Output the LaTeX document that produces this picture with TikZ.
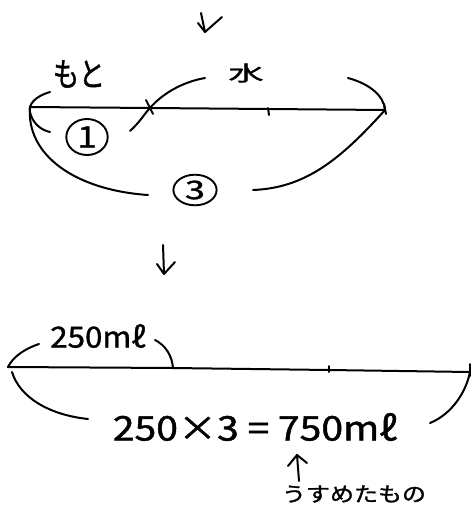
\documentclass[tikz,border=0pt]{standalone}
\usepackage{fontspec}
\newfontfamily\jp{Noto Sans CJK JP}[FakeBold=1.2]
\begin{document}
\begin{tikzpicture}[x=1pt,y=-1pt,
  pen/.style={line width=2pt,line cap=round,line join=round},
  lbl/.style={font=\jp, inner sep=0pt},
  circnum/.style={draw,circle,line width=1.9pt,inner sep=0pt,minimum size=36pt,font=\jp\fontsize{30}{30}\selectfont}]
\useasboundingbox (0,0) rectangle (472,516);
% top arrow
\coordinate (a1s) at (201,13); \coordinate (a1e) at (205,32);
\coordinate (a1l) at (198,23); \coordinate (a1r) at (222,17);
\draw[pen] (a1s) -- (a1e) -- (a1r); \draw[pen] (a1l) -- (a1e);
% top line
\coordinate (A) at (30,107); \coordinate (B) at (150,108);
\coordinate (C) at (268,109); \coordinate (D) at (385,110);
\draw[pen] (A) -- (B) -- (C) -- (D);
\coordinate (Bt) at (146,100); \coordinate (Bb) at (153,114);
\draw[pen] (Bt) -- (Bb);
\coordinate (Ct) at (268,108); \coordinate (Cb) at (269,115);
\draw[pen] (Ct) -- (Cb);
\coordinate (Dt) at (384,104); \coordinate (Db) at (386,114);
\draw[pen] (Dt) -- (Db);
% labels
\node[lbl,font=\jp\fontsize{33}{33}\selectfont,xscale=0.8] (moto) at (79,74) {もと};
\node[lbl,font=\jp\fontsize{26}{26}\selectfont,xscale=1.35,yscale=0.8] (mizu) at (246,73) {水};
% moto brace
\coordinate (m1) at (50,92); \coordinate (m2) at (50,132);
\draw[pen] (m1) .. controls (36,96) and (28,104) .. (30,112) .. controls (32,122) and (40,130) .. (m2);
\coordinate (m3) at (130,131); \coordinate (w1) at (205,78);
\draw[pen] (m3) .. controls (140,122) and (145,113) .. (B) .. controls (162,94) and (182,82) .. (w1);
\coordinate (w2) at (348,78);
\draw[pen] (w2) .. controls (370,84) and (384,96) .. (D);
\node[circnum,xscale=1.15] (one) at (87,137) {1};
% three brace
\coordinate (t1) at (148,195); \coordinate (t2) at (253,190);
\draw[pen] (A) .. controls (26,155) and (75,190) .. (t1);
\draw[pen] (t2) .. controls (305,188) and (340,160) .. (D);
\node[circnum,xscale=1.2,yscale=0.85] (three) at (195,190) {3};
% second arrow
\coordinate (a2s) at (163,245); \coordinate (a2e) at (164,274);
\coordinate (a2l) at (157,264); \coordinate (a2r) at (175,262);
\draw[pen] (a2s) -- (a2e) -- (a2r); \draw[pen] (a2l) -- (a2e);
% bottom line
\coordinate (E) at (8,367); \coordinate (F) at (329,370); \coordinate (G) at (470,372);
\coordinate (H) at (173,368);
\draw[pen] (E) -- (H) -- (F) -- (G);
\coordinate (Ft) at (329,366); \coordinate (Fb) at (329,372);
\draw[pen] (Ft) -- (Fb);
\coordinate (Gt) at (470,364); \coordinate (Gb) at (470,376);
\draw[pen] (Gt) -- (Gb);
\node[lbl,font=\jp\fontsize{29}{29}\selectfont,xscale=1.08] (q) at (98,336) {250mℓ};
\coordinate (q1) at (39,344); \coordinate (q2) at (155,340);
\draw[pen] (q1) .. controls (24,349) and (13,357) .. (E);
\draw[pen] (q2) .. controls (165,345) and (172,355) .. (H);
% lower brace
\coordinate (r0) at (12,372);
\coordinate (r1) at (88,419); \coordinate (r2) at (430,423);
\draw[pen] (r0) .. controls (20,398) and (50,415) .. (r1);
\draw[pen] (r2) .. controls (452,414) and (466,392) .. (G);
\node[lbl,font=\jp\fontsize{34}{34}\selectfont,xscale=1.15] (calc) at (255,427) {250×3 = 750mℓ};
% up arrow
\coordinate (u1) at (299,481); \coordinate (u2) at (297,455);
\coordinate (u3) at (288,466); \coordinate (u4) at (307,463);
\draw[pen] (u1) -- (u2) -- (u4); \draw[pen] (u3) -- (u2);
\node[lbl,font=\jp\fontsize{24}{24}\selectfont,yscale=0.85] (usu) at (354,494) {うすめたもの};
\end{tikzpicture}
\end{document}
